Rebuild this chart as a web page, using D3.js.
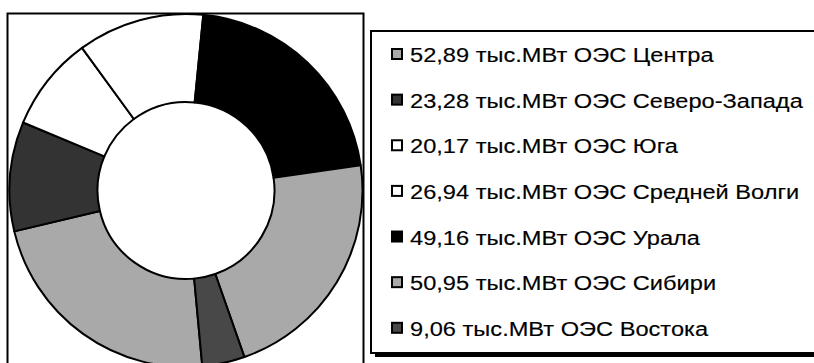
<!DOCTYPE html>
<html>
<head>
<meta charset="utf-8">
<script src="https://cdn.jsdelivr.net/npm/d3@7"></script>
<style>
  html, body { margin: 0; padding: 0; background: #fff; }
  svg { display: block; }
  text { font-family: "Liberation Sans", Arial, sans-serif; }
</style>
</head>
<body>
<svg id="chart" width="814" height="363"></svg>
<script>
// Installed capacity by unified energy system (ОЭС), thousand MW
const regions = ["ОЭС Центра", "ОЭС Северо-Запада", "ОЭС Юга", "ОЭС Средней Волги", "ОЭС Урала", "ОЭС Сибири", "ОЭС Востока"];
const values = [52.89, 23.28, 20.17, 26.94, 49.16, 50.95, 9.06];
const unitLabel = "тыс.МВт";
const fills = ["#a9a9a9", "#333333", "#ffffff", "#ffffff", "#000000", "#a9a9a9", "#484848"];

const data = regions.map((r, i) => ({ region: r, value: values[i], fill: fills[i] }));
const fmt = v => d3.format(".2f")(v).replace(".", ",");

const svg = d3.select("#chart");

// Plot area frame
svg.append("rect")
  .attr("x", 7.5).attr("y", 13.5)
  .attr("width", 356).attr("height", 400)
  .attr("fill", "#fff").attr("stroke", "#000").attr("stroke-width", 2);

// Doughnut
const cx = 186, cy = 190.5, rOuter = 176.5, rInner = 88.5;
const start = 174.7 * Math.PI / 180;
const pie = d3.pie().value(d => d.value).sort(null)
  .startAngle(start).endAngle(start + 2 * Math.PI);
const arc = d3.arc().innerRadius(rInner).outerRadius(rOuter);

svg.append("g")
  .attr("transform", `translate(${cx},${cy})`)
  .selectAll("path")
  .data(pie(data))
  .join("path")
  .attr("d", arc)
  .attr("fill", d => d.data.fill)
  .attr("stroke", "#000")
  .attr("stroke-width", 2)
  .attr("stroke-linejoin", "round");

// Legend with drop shadow
const lg = svg.append("g");
lg.append("rect")
  .attr("x", 375).attr("y", 35).attr("width", 460).attr("height", 322)
  .attr("fill", "#000");
lg.append("rect")
  .attr("x", 371).attr("y", 31).attr("width", 460).attr("height", 322)
  .attr("fill", "#fff").attr("stroke", "#000").attr("stroke-width", 2);

const rowY = d3.scalePoint().domain(d3.range(data.length)).range([54.5, 328.3]);

const rows = lg.selectAll("g.row")
  .data(data)
  .join("g")
  .attr("class", "row")
  .attr("transform", (d, i) => `translate(0,${rowY(i)})`);

rows.append("rect")
  .attr("x", 392).attr("y", -5.5).attr("width", 10).attr("height", 10)
  .attr("fill", d => d.fill).attr("stroke", "#000").attr("stroke-width", 2);

// Legend labels use a wide face: stretch horizontally
rows.append("text")
  .attr("transform", "translate(410,7.5) scale(1.125,1)")
  .attr("font-size", 21)
  .attr("fill", "#000")
  .attr("stroke", "#000").attr("stroke-width", 0.15)
  .text(d => `${fmt(d.value)} ${unitLabel} ${d.region}`);
</script>
</body>
</html>
